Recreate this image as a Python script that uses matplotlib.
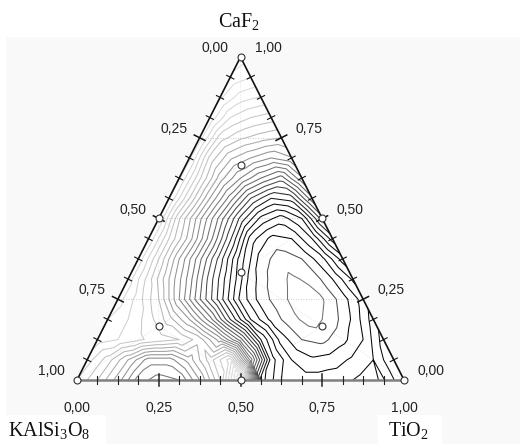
import numpy as np
import matplotlib.pyplot as plt
import matplotlib.tri as mtri
from matplotlib.patches import Rectangle, Polygon

plt.rcParams['mathtext.fontset'] = 'custom'
plt.rcParams['mathtext.rm'] = 'Liberation Serif'
plt.rcParams['mathtext.it'] = 'Liberation Serif'

# response on a 1/16 lattice
# row j -> CaF2 = j/16, entries run TiO2 = 0, 1/16, ... (KAlSi3O8 makes up the rest)
resp_rows = [
    [6.5, 8.5, 11, 14, 15, 14.5, 11.5, 7.5, 0, 21, 23.5, 24, 24, 23.8, 23.2, 23.6, 21.5],
    [6, 8, 10.5, 13, 13, 11, 8, 5, 14, 22, 24.5, 25.3, 25, 24.3, 23.5, 21.5],
    [5, 5.5, 6.3, 7, 7.5, 9, 12, 16, 21.5, 25, 26.5, 26.8, 25.8, 24.5, 22],
    [4.5, 5.5, 7, 9, 11.5, 15, 19.5, 23.5, 25.8, 27.2, 28, 27, 25.3, 23],
    [4, 6, 8.5, 12.5, 16.4, 20, 23.8, 26, 27.2, 28.2, 27.6, 26, 24],
    [3.9, 7, 10.5, 14, 18, 21.5, 25, 26.8, 27.7, 27.2, 25.5, 23.3],
    [3.8, 7.5, 11.5, 15.2, 19, 23, 26, 27.1, 26.5, 24.8, 22],
    [3.6, 7.5, 11, 15, 19.3, 24, 25.8, 25.5, 23.5, 20],
    [3.5, 8.4, 12.2, 15.9, 19.8, 22.8, 24, 22.5, 18],
    [3.4, 7.5, 11.5, 15, 18.5, 20.5, 20, 15.8],
    [3.3, 7.3, 11, 13.5, 15.5, 17, 13.7],
    [3.2, 7.8, 10.3, 11.5, 12.5, 11.6],
    [3.0, 7.0, 8.3, 9.0, 9.5],
    [2.7, 5.5, 6.5, 7.0],
    [2.3, 4.0, 4.6],
    [1.7, 2.5],
    [1.0],
]

# design points (simplex centroid + axial checks)
pt_tio2 = [0, 1, 0, 0.5, 0.5, 0, 1/3, 1/6, 2/3, 1/6]
pt_caf2 = [0, 0, 1, 0, 0.5, 0.5, 1/3, 2/3, 1/6, 1/6]

tick_vals = [0, 0.25, 0.5, 0.75, 1.0]
tick_text = ['0,00', '0,25', '0,50', '0,75', '1,00']
levels = np.arange(0.5, 28.5, 1.0)


def to_xy(t, c):
    t = np.asarray(t, float)
    c = np.asarray(c, float)
    return t + c / 2, c


W, H = 520, 444
SX, SY = 327.0, 323.0
fig = plt.figure(figsize=(W / 100, H / 100), dpi=100)
fig.patch.set_facecolor('white')
fig.add_artist(Rectangle((6 / W, 0), 1, 1 - 37 / H, transform=fig.transFigure,
                         fc='#f9f9f9', ec='none', zorder=-5))
fig.add_artist(Rectangle((0, 0), 106 / W, 29 / H, transform=fig.transFigure,
                         fc='white', ec='none', zorder=-4))
fig.add_artist(Rectangle((378 / W, 0), 64 / W, 29 / H, transform=fig.transFigure,
                         fc='white', ec='none', zorder=-4))

ax = fig.add_axes([77 / W, (H - 380) / H, SX / W, SY / H])
ax.set_xlim(0, 1)
ax.set_ylim(0, 1)
ax.axis('off')

ax.add_patch(Polygon([(0, 0), (1, 0), (0.5, 1)], closed=True, fc='white', ec='none', zorder=0))

# lattice triangulation, contoured piecewise-linearly like the original
n = len(resp_rows) - 1
tt, cc, zz, idx = [], [], [], {}
for j, row in enumerate(resp_rows):
    for i, v in enumerate(row):
        idx[(i, j)] = len(zz)
        tt.append(i / n)
        cc.append(j / n)
        zz.append(v)
tris = []
for j in range(n):
    for i in range(n - j):
        tris.append([idx[(i, j)], idx[(i + 1, j)], idx[(i, j + 1)]])
        if i < n - j - 1:
            tris.append([idx[(i + 1, j)], idx[(i + 1, j + 1)], idx[(i, j + 1)]])
gx, gy = to_xy(tt, cc)
tri = mtri.Triangulation(gx, gy, tris)
zz = np.array(zz, float)

# grey ramp: light for low levels, black in the upper middle, grey again at the top
anch_l = [0, 4, 8, 12, 14, 16, 19, 21, 25.5, 26.5, 27.5]
anch_g = [0.88, 0.86, 0.74, 0.55, 0.47, 0.38, 0.2, 0.05, 0.0, 0.3, 0.45]
cols = [str(np.interp(l, anch_l, anch_g)) for l in levels]
ax.tricontour(tri, zz, levels=levels, colors=cols, linewidths=0.75, zorder=2)

# grid lines
for c in [0.25, 0.5, 0.75]:
    ax.plot([c / 2, 1 - c / 2], [c, c], color='#bbbbbb', lw=0.6, ls=(0, (1, 2)), zorder=1)
dx, dy = to_xy(pt_tio2, pt_caf2)
dtri = mtri.Triangulation(dx, dy)
ax.triplot(dtri, color='#d4d4d4', lw=0.5, ls=(0, (1, 2)), zorder=1)

# frame
ax.plot([0, 0.5, 1], [0, 1, 0], color='#111111', lw=1.2, zorder=4, clip_on=False)
ax.plot([0, 1], [0, 0], color='#808080', lw=1.8, zorder=4, clip_on=False)


def edge_ticks(p0, p1, color):
    p0 = np.array(p0, float)
    p1 = np.array(p1, float)
    d = (p1 - p0) * np.array([SX, SY])
    d /= np.hypot(*d)
    perp = np.array([-d[1], d[0]])
    for m in range(1, 16):
        p = p0 + (p1 - p0) * m / 16
        major = m % 4 == 0
        half = 6.0 if major else 4.0
        off = perp * half / np.array([SX, SY])
        ax.plot([p[0] - off[0], p[0] + off[0]], [p[1] - off[1], p[1] + off[1]],
                color=color, lw=1.1 if major else 0.8, zorder=5, clip_on=False)


edge_ticks((0, 0), (0.5, 1), '#111111')
edge_ticks((0.5, 1), (1, 0), '#111111')
edge_ticks((0, 0), (1, 0), '#222222')

ax.plot(dx, dy, 'o', ms=5, mfc='white', mec='#333333', mew=0.8, zorder=6, clip_on=False)

# tick labels
lab = dict(fontsize=10, family='Liberation Sans', color='#222222',
           textcoords='offset pixels', annotation_clip=False)
for v, s in zip(tick_vals, tick_text):
    # KAlSi3O8 on the left edge
    x, y = to_xy(0, 1 - v)
    ax.annotate(s, (x, y), xytext=(-12, 9), ha='right', va='center', **lab)
    # CaF2 on the right edge
    x, y = to_xy(1 - v, v)
    ax.annotate(s, (x, y), xytext=(14, 9), ha='left', va='center', **lab)
    # TiO2 along the bottom
    x, y = to_xy(v, 0)
    ax.annotate(s, (x, y), xytext=(0, -28), ha='center', va='center', **lab)

ser = dict(fontsize=14.5, family='Liberation Serif', color='#111111',
           textcoords='offset pixels', annotation_clip=False)
ax.annotate('CaF$_2$', (0.5, 1), xytext=(-2, 35), ha='center', va='center', **ser)
ax.annotate('KAlSi$_3$O$_8$', (0, 0), xytext=(-69, -50), ha='left', va='center', **ser)
ax.annotate('TiO$_2$', (1, 0), xytext=(-16, -50), ha='left', va='center', **ser)

fig.savefig('out.png', dpi=100)
